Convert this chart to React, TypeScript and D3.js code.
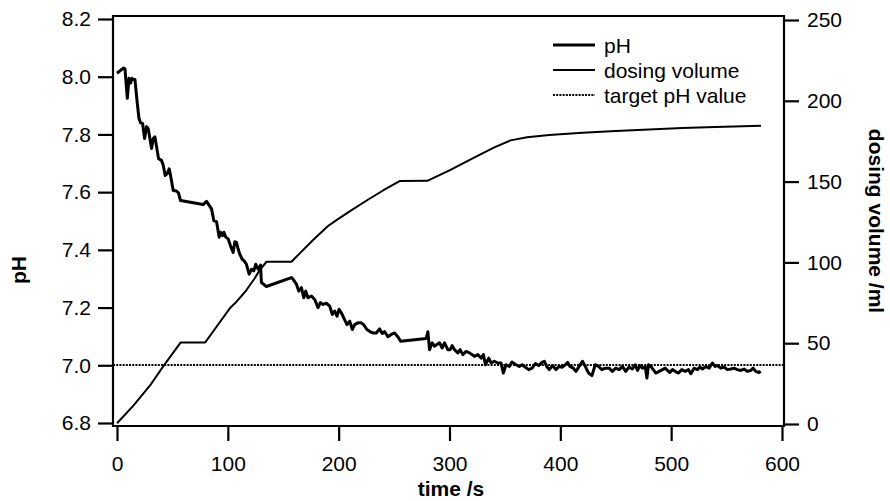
import React, { useEffect, useRef } from 'react';
import * as d3 from 'd3';

// pH trace (time /s, pH)
const phTime = [
  0, 5.7, 7.2, 9.3, 10.8, 12.3, 13.5, 14.7, 16.2, 18.3, 19.8, 21.3, 23.1, 24.9, 26.7, 28.2, 31.2, 32.7, 34.2, 35.7,
  37.5, 40.2, 41.7, 43.5, 45.3, 47.1, 48.6, 50.7, 53.7, 55.5, 57.3, 77.7, 80.8, 83.2, 85.3, 87.4, 89.8, 92.2, 93.4,
  95.2, 96.4, 98.2, 100.3, 102.4, 104.8, 106.3, 107.8, 109.3, 110.8, 112.9, 114.7, 116.8, 119.2, 121.4, 123.4, 125.2,
  127.3, 129.5, 130.3, 134.8, 157.4, 158.9, 161.9, 164, 166.4, 168.5, 170.3, 172.3, 175.4, 178.4, 181.4, 183.5, 185.9,
  188.9, 191.9, 194.3, 196.4, 198.5, 200.3, 202.4, 204.5, 207.5, 210, 212.3, 214.4, 217.4, 220.4, 222.5, 225.5, 228.5,
  230.9, 233.9, 236.9, 239.3, 241.4, 244.4, 247.5, 250.5, 253.4, 255.9, 279, 280.5, 282, 284.4, 286.5, 288.6, 291,
  293.4, 295.5, 298.5, 300.6, 302.4, 304.5, 307.5, 309.6, 312, 315, 318, 322.5, 325.5, 328.5, 330.6, 332.4, 335.4,
  337.5, 340.5, 343.5, 346.5, 348.6, 351, 354, 356.4, 360, 363, 365.5, 368.5, 371.4, 374.5, 377.5, 380.5, 383.5, 385.6,
  387.7, 390, 393, 396, 399, 401.5, 404.5, 406.6, 408.7, 411.7, 414.1, 417, 420, 422.5, 425.5, 428.5, 431.5, 434.5,
  437.5, 440.5, 444, 447, 450, 453, 456, 459, 462, 465, 467.6, 469.7, 471.8, 474.2, 476.6, 478.1, 479.6, 481.7, 486.2,
  489.2, 492.2, 494.6, 496.7, 498.8, 501.2, 503.6, 506.6, 509.6, 512.6, 515.6, 517.7, 520.7, 523.7, 525.9, 528.2,
  531.3, 534.2, 537.2, 539.6, 541.7, 544.8, 547.7, 550.7, 553.8, 556.8, 559.7, 562.8, 565.8, 568.7, 571.8, 573.9,
  576.3, 579.3, 580.8,
];
const phValues = [
  8.012, 8.03, 8.027, 7.925, 7.995, 7.978, 7.995, 7.99, 7.99, 7.908, 7.856, 7.84, 7.838, 7.786, 7.827, 7.82, 7.751,
  7.786, 7.792, 7.757, 7.716, 7.71, 7.693, 7.658, 7.664, 7.681, 7.652, 7.606, 7.604, 7.597, 7.571, 7.557, 7.568, 7.554,
  7.542, 7.501, 7.498, 7.444, 7.461, 7.449, 7.461, 7.444, 7.438, 7.414, 7.391, 7.428, 7.426, 7.403, 7.385, 7.368,
  7.362, 7.35, 7.316, 7.333, 7.327, 7.35, 7.333, 7.347, 7.287, 7.273, 7.304, 7.298, 7.281, 7.257, 7.269, 7.234, 7.257,
  7.234, 7.24, 7.228, 7.2, 7.217, 7.211, 7.215, 7.205, 7.176, 7.188, 7.17, 7.194, 7.182, 7.165, 7.141, 7.153, 7.124,
  7.141, 7.147, 7.147, 7.141, 7.124, 7.116, 7.112, 7.112, 7.126, 7.11, 7.117, 7.099, 7.107, 7.112, 7.099, 7.083,
  7.093, 7.116, 7.054, 7.078, 7.066, 7.072, 7.078, 7.06, 7.078, 7.054, 7.054, 7.068, 7.054, 7.043, 7.054, 7.037,
  7.048, 7.043, 7.031, 7.037, 7.025, 7.037, 7.002, 7.025, 7.008, 7.014, 7.008, 7.008, 6.973, 7.002, 6.996, 7.011,
  7.002, 6.996, 7.002, 6.993, 6.985, 6.99, 7.006, 6.999, 7.01, 7.014, 6.996, 6.985, 6.999, 6.985, 6.996, 6.993, 7.002,
  7.01, 6.996, 6.99, 6.979, 6.996, 7.014, 6.996, 6.973, 6.964, 7.002, 6.996, 6.985, 6.99, 6.99, 6.979, 6.99, 6.985,
  6.996, 6.979, 6.994, 6.987, 7.002, 6.982, 6.999, 6.99, 6.996, 6.956, 7.002, 6.996, 6.973, 6.979, 6.985, 6.99, 6.982,
  6.975, 6.985, 6.979, 6.973, 6.985, 6.979, 6.985, 6.971, 6.99, 6.985, 6.994, 6.987, 6.996, 6.99, 7.008, 6.996, 6.999,
  6.99, 6.994, 6.985, 6.987, 6.99, 6.985, 6.982, 6.987, 6.979, 6.982, 6.99, 6.979, 6.975, 6.979,
];

// dosing volume (time /s, ml)
const doseTime = [
  0, 15, 30, 42, 57.5, 79.6, 89.8, 101.8, 107.8, 112.3, 116.8, 124.3, 128.8, 134.9, 157.4, 164.9, 176.9, 190.4, 198,
  212, 226, 240, 255, 280, 300, 320, 340, 355, 370, 390, 420, 450, 480, 510, 540, 581,
];
const doseVolume = [
  0.5, 11.5, 24, 36, 50.5, 50.5, 60.2, 71.6, 75.7, 79.2, 82.9, 90.2, 95.3, 100.4, 100.4, 105.6, 113.9, 122.5, 126.2,
  132.5, 138.6, 144.5, 150.3, 150.5, 157, 164, 171, 175.5, 177.5, 178.8, 180.2, 181.3, 182.3, 183.2, 183.8, 184.5,
];

const targetPh = 7.0;
const timeTicks = [0, 100, 200, 300, 400, 500, 600];
const phTicks = [6.8, 7.0, 7.2, 7.4, 7.6, 7.8, 8.0, 8.2];
const volumeTicks = [0, 50, 100, 150, 200, 250];
const legendLabels = ['pH', 'dosing volume', 'target pH value'];

const FONT = '"Liberation Sans", Arial, Helvetica, sans-serif';

export default function App() {
  const svgRef = useRef<SVGSVGElement>(null);

  useEffect(() => {
    draw();
    // eslint-disable-next-line react-hooks/exhaustive-deps
  }, []);

  function draw() {
    const svg = d3.select(svgRef.current);
    svg.selectAll('*').remove();

    const left = 113;
    const right = 784;
    const top = 16;
    const bottom = 426;

    const x = d3.scaleLinear().domain([0, 600]).range([117, 782]);
    const yPh = d3.scaleLinear().domain([6.8, 8.2]).range([423, 19]);
    const yVol = d3.scaleLinear().domain([0, 250]).range([424, 20]);

    svg.append('rect').attr('width', 890).attr('height', 501).attr('fill', '#fff');

    // target pH line
    const yTarget = Math.round(yPh(targetPh));
    svg
      .append('line')
      .attr('x1', left)
      .attr('x2', right)
      .attr('y1', yTarget)
      .attr('y2', yTarget)
      .attr('stroke', '#000')
      .attr('stroke-width', 2)
      .attr('stroke-dasharray', '2,1.2');

    // dosing volume
    const doseLine = d3
      .line<number>()
      .x((d, i) => x(doseTime[i]))
      .y((d) => yVol(d));
    svg
      .append('path')
      .attr('d', doseLine(doseVolume))
      .attr('fill', 'none')
      .attr('stroke', '#000')
      .attr('stroke-width', 2)
      .attr('stroke-linejoin', 'round');

    // pH
    const phLine = d3
      .line<number>()
      .x((d, i) => x(phTime[i]))
      .y((d) => yPh(d));
    svg
      .append('path')
      .attr('d', phLine(phValues))
      .attr('fill', 'none')
      .attr('stroke', '#000')
      .attr('stroke-width', 3)
      .attr('stroke-linejoin', 'round');

    // frame
    svg
      .append('path')
      .attr('d', `M${left},${bottom}V${top}H${right}V${bottom}Z`)
      .attr('fill', 'none')
      .attr('stroke', '#000')
      .attr('stroke-width', 2.2);

    const styleAxis = (g) => {
      g.select('.domain').remove();
      g.selectAll('line').attr('stroke-width', 2.2);
      g.selectAll('text').attr('font-family', FONT).attr('font-size', 21).attr('fill', '#000');
    };

    svg
      .append('g')
      .attr('transform', `translate(${left},0)`)
      .call(d3.axisLeft(yPh).tickValues(phTicks).tickFormat(d3.format('.1f')).tickSize(15).tickPadding(7))
      .call(styleAxis);

    svg
      .append('g')
      .attr('transform', `translate(${right},0)`)
      .call(d3.axisRight(yVol).tickValues(volumeTicks).tickSize(15).tickPadding(8))
      .call(styleAxis);

    svg
      .append('g')
      .attr('transform', `translate(0,${bottom})`)
      .call(d3.axisBottom(x).tickValues(timeTicks).tickSize(15).tickPadding(15))
      .call(styleAxis);

    // axis titles
    svg
      .append('text')
      .attr('transform', 'translate(26,270) rotate(-90)')
      .attr('text-anchor', 'middle')
      .attr('font-family', FONT)
      .attr('font-weight', 'bold')
      .attr('font-size', 21)
      .text('pH');
    svg
      .append('text')
      .attr('transform', 'translate(869,221) rotate(90)')
      .attr('text-anchor', 'middle')
      .attr('font-family', FONT)
      .attr('font-weight', 'bold')
      .attr('font-size', 21)
      .text('dosing volume /ml');
    svg
      .append('text')
      .attr('x', 451)
      .attr('y', 496)
      .attr('text-anchor', 'middle')
      .attr('font-family', FONT)
      .attr('font-weight', 'bold')
      .attr('font-size', 21)
      .text('time /s');

    // legend
    const legend = svg.append('g').attr('transform', 'translate(553,45)');
    legendLabels.forEach((label, i) => {
      legend
        .append('line')
        .attr('x1', 0)
        .attr('x2', 42)
        .attr('y1', i * 25)
        .attr('y2', i * 25)
        .attr('stroke', '#000')
        .attr('stroke-width', i === 0 ? 3 : 2)
        .attr('stroke-dasharray', i === 2 ? '2,1.2' : null);
      legend
        .append('text')
        .attr('x', 51)
        .attr('y', i * 25 + 7.5)
        .attr('font-family', FONT)
        .attr('font-size', 21)
        .text(label);
    });
  }

  return (
    <svg
      ref={svgRef}
      width={890}
      height={501}
      style={{ position: 'absolute', left: 0, top: 0, display: 'block' }}
    />
  );
}
